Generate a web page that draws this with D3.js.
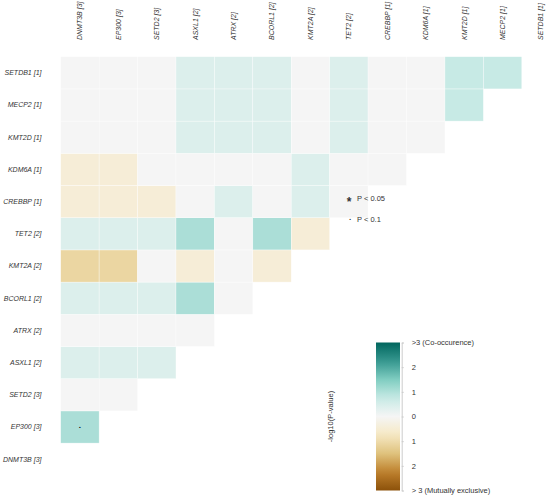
<!DOCTYPE html>
<html lang="en">
  <head>
    <meta charset="utf-8">
    <title>Somatic interactions</title>
    <script src="https://cdn.jsdelivr.net/npm/d3@7"></script>
    <style>
      body { margin: 0; background: #fff; }
      svg { display: block; font-family: "Liberation Sans", Arial, sans-serif; }
      .gene { font-size: 7px; font-style: italic; fill: #333; }
      .legend text { font-size: 7.5px; fill: #333; }
      .cell { stroke: #fff; stroke-width: 0.5; stroke-opacity: 0.7; }
    </style>
  </head>
  <body>
    <svg id="chart" width="550" height="499"></svg>

    <script>
      // genes in plotting order, with mutated sample counts
      var genes = ["DNMT3B", "EP300", "SETD2", "ASXL1", "ATRX", "BCORL1", "KMT2A",
                   "TET2", "CREBBP", "KDM6A", "KMT2D", "MECP2", "SETDB1"];
      var mutCounts = [3, 3, 3, 2, 2, 2, 2, 2, 1, 1, 1, 1, 1];

      // signed -log10(P): > 0 co-occurence, < 0 mutual exclusivity
      // row gene genes[i] against column genes[0..i-1]
      var logP = [
        [],
        [1.05],
        [0, 0],
        [0.4, 0.4, 0.4],
        [0, 0, 0, 0],
        [0.4, 0.4, 0.4, 1.05, 0],
        [-1.1, -1.1, 0, -0.45, 0, -0.45],
        [0.4, 0.4, 0.4, 1.05, 0, 1.05, -0.45],
        [-0.45, -0.45, -0.45, 0, 0.4, 0, 0.4, 0],
        [-0.45, -0.45, 0, 0, 0, 0, 0.4, 0, 0],
        [0, 0, 0, 0.4, 0.4, 0.4, 0, 0.4, 0, 0],
        [0, 0, 0, 0.4, 0.4, 0.4, 0, 0.4, 0, 0, 0.75],
        [0, 0, 0, 0.4, 0.4, 0.4, 0, 0.4, 0, 0, 0.75, 0.75]
      ];

      // pairs flagged as significant: [row gene, column gene, P threshold]
      var sigPairs = [["EP300", "DNMT3B", 0.1]];

      var legendTicks = [-3, -2, -1, 0, 1, 2, 3];
      var brbg = ["#8c510a", "#bf812d", "#dfc27d", "#f6e8c3", "#f5f5f5",
                  "#c7eae5", "#80cdc1", "#35978f", "#01665e"];

      var svg = d3.select("#chart");
      var label = function(i) { return genes[i] + " [" + mutCounts[i] + "]"; };

      var x = d3.scaleBand().domain(genes).range([60.7, 560.2]);
      var y = d3.scaleBand().domain(genes.slice().reverse()).range([56.7, 475.3]);

      var color = d3.scaleLinear()
          .domain(brbg.map(function(d, i) { return -3 + i * 0.75; }))
          .range(brbg)
          .clamp(true);

      // flatten the triangle into cells
      var cells = [];
      logP.forEach(function(row, i) {
        row.forEach(function(v, j) {
          cells.push({row: genes[i], col: genes[j], value: v});
        });
      });

      svg.append("g").selectAll("rect")
          .data(cells)
          .enter().append("rect")
          .attr("class", "cell")
          .attr("x", function(d) { return x(d.col); })
          .attr("y", function(d) { return y(d.row); })
          .attr("width", x.bandwidth())
          .attr("height", y.bandwidth())
          .attr("fill", function(d) { return color(d.value); });

      // significance markers
      svg.append("g").selectAll("text")
          .data(sigPairs)
          .enter().append("text")
          .attr("x", function(d) { return x(d[1]) + x.bandwidth() / 2; })
          .attr("y", function(d) { return y(d[0]) + y.bandwidth() / 2; })
          .attr("text-anchor", "middle")
          .attr("dy", function(d) { return d[2] < 0.1 ? "0.7em" : "0.15em"; })
          .style("font-size", function(d) { return d[2] < 0.1 ? "12px" : "8px"; })
          .style("font-weight", "bold")
          .text(function(d) { return d[2] < 0.1 ? "*" : "."; });

      // column labels
      svg.append("g").selectAll("text")
          .data(genes)
          .enter().append("text")
          .attr("class", "gene")
          .attr("transform", function(d) { return "translate(" + (x(d) + x.bandwidth() / 2) + ",40) rotate(-90)"; })
          .attr("dy", "0.35em")
          .text(function(d, i) { return label(i); });

      // row labels
      svg.append("g").selectAll("text")
          .data(genes)
          .enter().append("text")
          .attr("class", "gene")
          .attr("x", 41.5)
          .attr("y", function(d) { return y(d) + y.bandwidth() / 2; })
          .attr("dy", "0.35em")
          .attr("text-anchor", "end")
          .text(function(d, i) { return label(i); });

      // P-value key
      var key = svg.append("g").attr("class", "legend");
      key.append("text").attr("x", 349).attr("y", 198).attr("dy", "0.7em")
          .attr("text-anchor", "middle").style("font-size", "12px").style("font-weight", "bold").text("*");
      key.append("text").attr("x", 357).attr("y", 198).attr("dy", "0.35em").text("P < 0.05");
      key.append("text").attr("x", 350).attr("y", 219).attr("dy", "0.15em")
          .attr("text-anchor", "middle").style("font-size", "8px").style("font-weight", "bold").text(".");
      key.append("text").attr("x", 357).attr("y", 219).attr("dy", "0.35em").text("P < 0.1");

      // colour bar
      var barY = d3.scaleLinear().domain([-3, 3]).range([490.5, 342.5]);
      var grad = svg.append("defs").append("linearGradient")
          .attr("id", "bar").attr("x1", 0).attr("y1", 1).attr("x2", 0).attr("y2", 0);
      grad.selectAll("stop")
          .data(d3.range(0, 1.0001, 0.05))
          .enter().append("stop")
          .attr("offset", function(t) { return t; })
          .attr("stop-color", function(t) { return color(-3 + 6 * t); });

      var legend = svg.append("g").attr("class", "legend");
      legend.append("rect")
          .attr("x", 376).attr("y", barY(3))
          .attr("width", 24).attr("height", barY(-3) - barY(3))
          .attr("fill", "url(#bar)");

      var axis = d3.axisRight(barY)
          .tickValues(legendTicks)
          .tickSize(2)
          .tickPadding(8)
          .tickFormat(function(v) {
            if (v === 3) return ">3 (Co-occurence)";
            if (v === -3) return "> 3 (Mutually exclusive)";
            return Math.abs(v);
          });
      var ax = legend.append("g").attr("transform", "translate(401.7,0)").call(axis);
      ax.select(".domain").attr("stroke", "#ccc");
      ax.selectAll(".tick line").attr("stroke", "#ccc");
      ax.selectAll(".tick text").attr("fill", "#333").style("font-size", "7.5px")
          .style("font-family", "Liberation Sans, Arial, sans-serif");

      legend.append("text")
          .attr("transform", "translate(330," + barY(0) + ") rotate(-90)")
          .attr("text-anchor", "middle")
          .attr("dy", "0.35em")
          .text("-log10(P-value)");
    </script>
  </body>
</html>
